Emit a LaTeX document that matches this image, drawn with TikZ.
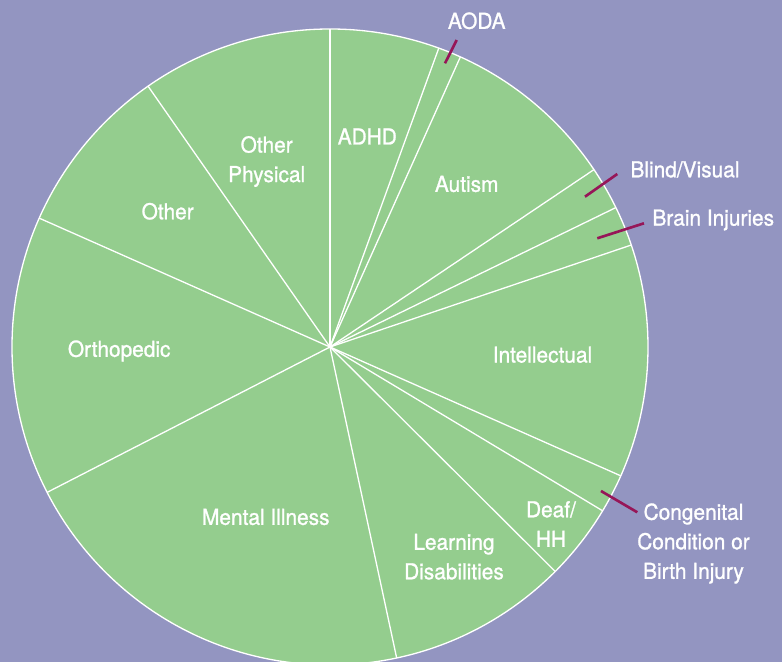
\documentclass[tikz,border=0pt]{standalone}
\usepackage{fontspec}
\setmainfont{TeX Gyre Heros}[FakeStretch=0.95, FakeBold=1.1]
\definecolor{bgpurple}{RGB}{147,149,193}
\definecolor{piegreen}{RGB}{148,205,142}
\definecolor{leadermag}{RGB}{150,22,88}
\tikzset{
  slicelabel/.style={text=white, align=center, inner sep=0pt,
    font=\fontsize{12.5}{16.8}\selectfont},
  leader/.style={leadermag, line width=1.5pt}
}
\begin{document}
\begin{tikzpicture}[x=0.02cm, y=0.02cm]
    \coordinate (Origin) at (0,0);
    \fill [bgpurple] (-330,-315) rectangle (452,347);% background
    \useasboundingbox (-330,-315) rectangle (452,347);

    \filldraw [fill=piegreen, draw=white, line width=0.75pt] (Origin) circle (318);
          % spokes between the slices, clockwise from the top
    \foreach \a in {90,70.0,65.8,33.9,26.0,18.7,-23.9,-31.0,-44.9,-77.9,-152.8,156.1,124.9}{%
      \draw [white, line width=0.75pt] (Origin) -- (\a:318);
    }

    \node[slicelabel] (adhd)   at (37.3,210.5)   {ADHD};
    \node[slicelabel] (autism) at (136.7,163)    {Autism};
    \node[slicelabel] (intel)  at (212.5,-7.7)   {Intellectual};
    \node[slicelabel] (deaf)   at (221,-177)     {Deaf/\\HH};
    \node[slicelabel] (learn)  at (124,-209.7)   {Learning\\Disabilities};
    \node[slicelabel] (mental) at (-64.2,-170)   {Mental Illness};
    \node[slicelabel] (ortho)  at (-210.8,-4)    {Orthopedic};
    \node[slicelabel] (other)  at (-162.3,135.7) {Other};
    \node[slicelabel] (otherphys) at (-63.3,185.5) {Other\\Physical};

          % small slices get their label outside
    \node[slicelabel] (aoda)   at (146.7,326.2)  {AODA};
    \node[slicelabel] (blind)  at (355,177.5)    {Blind/Visual};
    \node[slicelabel] (brain)  at (383.3,127)    {Brain Injuries};
    \node[slicelabel] (congen) at (363.5,-196.5) {Congenital\\Condition or\\Birth Injury};

    \coordinate (AodaIn)    at (115,283.7);
    \coordinate (AodaOut)   at (126.7,307);
    \coordinate (BlindIn)   at (255,150.3);
    \coordinate (BlindOut)  at (287.3,173);
    \coordinate (BrainIn)   at (267.3,108.7);
    \coordinate (BrainOut)  at (314,123.7);
    \coordinate (CongenIn)  at (271,-144);
    \coordinate (CongenOut) at (307.3,-165.3);
    \draw [leader] (AodaIn) -- (AodaOut);
    \draw [leader] (BlindIn) -- (BlindOut);
    \draw [leader] (BrainIn) -- (BrainOut);
    \draw [leader] (CongenIn) -- (CongenOut);
\end{tikzpicture}
\end{document}
